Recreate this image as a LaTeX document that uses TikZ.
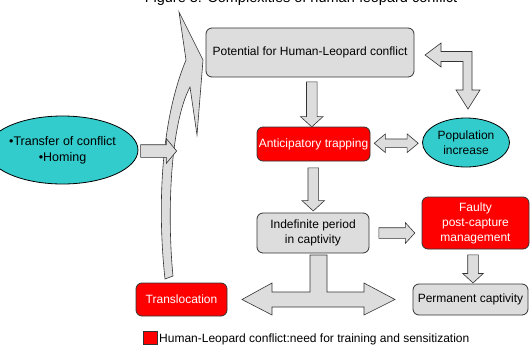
\documentclass[tikz,border=0pt]{standalone}
\usepackage{fontspec}
\setmainfont{Liberation Sans}
\usetikzlibrary{shapes.geometric,shapes.arrows,calc}

\definecolor{boxgray}{HTML}{DDDDDD}
\definecolor{boxred}{HTML}{FF0000}
\definecolor{ovalcyan}{HTML}{33CCCC}
\definecolor{edgegray}{HTML}{333333}

\tikzset{
  txt/.style={font=\fontsize{12}{15}\selectfont, align=center, inner sep=0pt},
  graybox/.style={txt, draw=edgegray, fill=boxgray, rounded corners=6pt, line width=0.8pt},
  redbox/.style={graybox, fill=boxred, text=white},
  ovalnode/.style={txt, ellipse, draw=black, fill=ovalcyan, line width=0.8pt},
  fatarrow/.style={single arrow, draw=edgegray, fill=boxgray, line width=0.6pt,
    inner sep=5pt, single arrow head extend=6pt,
    single arrow head indent=0pt, single arrow tip angle=95},
  fatboth/.style={double arrow, draw=edgegray, fill=boxgray, line width=0.6pt,
    inner sep=4pt, double arrow head extend=5pt,
    double arrow head indent=0pt, double arrow tip angle=80},
  blockshape/.style={draw=edgegray, fill=boxgray, line width=0.6pt, line join=miter},
}

\begin{document}
\begin{tikzpicture}[x=1pt,y=-1pt]
    \useasboundingbox (0,0) rectangle (530,345);
    % Draw title (cut at the top)
    \node[font=\fontsize{14.5}{17}\selectfont, anchor=base, inner sep=0pt] (title)
          at (301,3) {Figure 3: Complexities of human-leopard conflict};
    % Draw boxes
    \node[graybox, minimum width=208pt, minimum height=49pt] (potential) at (310,52.5)
          {Potential for Human-Leopard conflict};
    \node[redbox, minimum width=113pt, minimum height=34pt] (antic) at (313.5,144)
          {Anticipatory trapping};
    \node[graybox, minimum width=112pt, minimum height=40pt] (indef) at (313,233)
          {Indefinite period\\in captivity};
    \node[redbox, minimum width=107pt, minimum height=52pt] (faulty) at (475.5,223)
          {Faulty\\post-capture\\management};
    \node[graybox, minimum width=115pt, minimum height=31pt] (perm) at (470.5,299.5)
          {Permanent captivity};
    \node[redbox, minimum width=91pt, minimum height=33pt] (transl) at (181.5,299.5)
          {Translocation};
    % Draw ovals
    \node[ovalnode, minimum width=87pt, minimum height=49pt] (population) at (466,142.5)
          {Population\\increase};
    \node[ovalnode, minimum width=111pt, minimum height=68pt, font=\fontsize{12.5}{16}\selectfont]
          (transfer) at (62.5,150) {•Transfer of conflict\\•Homing};
    % Draw curved arrow
    \draw[blockshape] (165,279) .. controls (158,215) and (159,125) .. (186,60)
          -- (179,12) -- (203,60) -- (197,135) -- (190,87)
          .. controls (170,125) and (167,215) .. (173,276) -- cycle;
    % Draw straight arrows
    \node[fatarrow, rotate=-90, minimum height=45pt] (a1)
          at ($(potential.south)!0.5!(antic.north)$) {};
    \node[fatboth, minimum height=44pt] (a2)
          at ($(antic.east)!0.5!(population.west)$) {};
    \node[fatarrow, inner sep=6pt, minimum height=36pt, single arrow tip angle=100, anchor=west] (a3)
          at ($(transfer.east)+(2,1)$) {};
    \node[fatarrow, rotate=-90, minimum height=43pt] (a4)
          at ($(antic.south)!0.5!(indef.north)$) {};
    \node[fatarrow, single arrow head extend=5pt, minimum height=36pt] (a5)
          at ($(indef.east)+(25,0)$) {};
    \node[fatarrow, rotate=-90, single arrow head extend=5pt, minimum height=28pt] (a6)
          at ($(faulty.south)!0.5!(perm.north)$) {};
    % Draw bent arrow
    \draw[blockshape] (425,55) -- (441,43) -- (441,51.5) -- (472,51.5) -- (472,90)
          -- (480,90) -- (468,109) -- (456,90) -- (463,90) -- (463,61.5)
          -- (441,61.5) -- (441,67) -- cycle;
    % Draw T arrow
    \draw[blockshape] (310,255) -- (327,255) -- (327,292) -- (364,292) -- (364,283)
          -- (395,299.5) -- (364,315) -- (364,307) -- (272,307) -- (272,315)
          -- (242,299.5) -- (272,283) -- (272,292) -- (310,292) -- cycle;
    % Draw legend
    \draw[draw=edgegray, fill=boxred] (143,331) rectangle (157,344);
    \node[txt, anchor=base west] (legend) at (159,342)
          {Human-Leopard conflict:need for training and sensitization};
\end{tikzpicture}
\end{document}
